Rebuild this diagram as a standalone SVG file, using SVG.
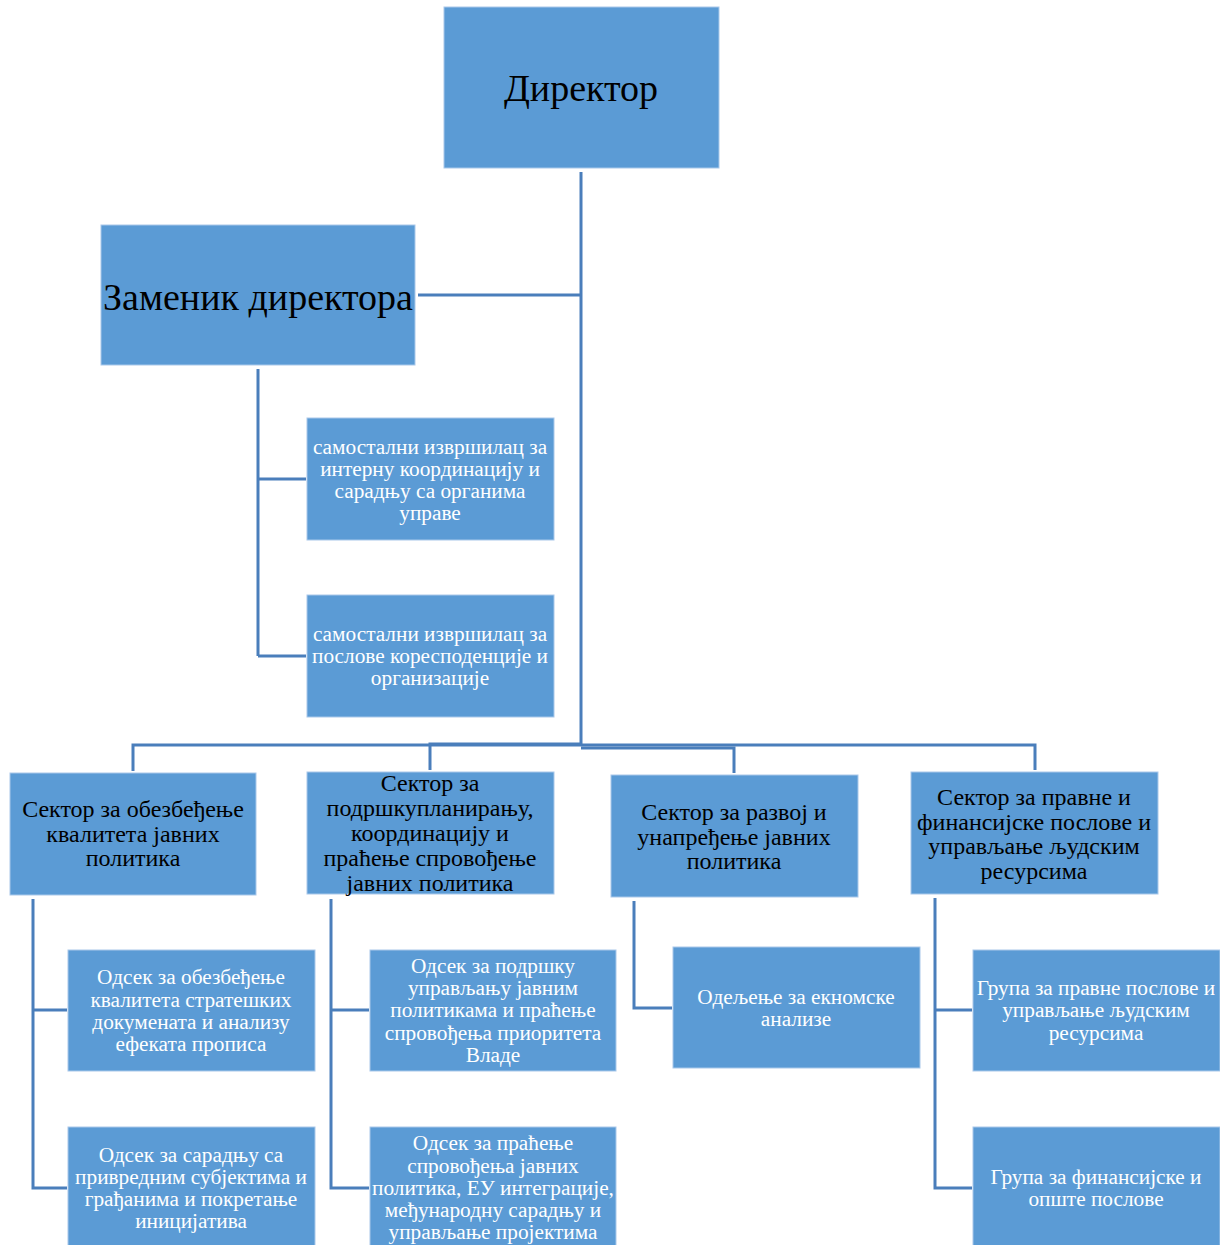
<svg xmlns="http://www.w3.org/2000/svg" width="1220" height="1245" viewBox="0 0 1220 1245">
<style>
.box{fill:#5B9BD5;stroke:#A9C8EA;stroke-width:1}
.c{fill:none;stroke:#4A7EBB;stroke-width:3}
text{font-family:"Liberation Serif","Times New Roman",serif;text-anchor:middle;dominant-baseline:central}
.big{font-size:38px;fill:#000}
.sec{font-size:24px;fill:#000}
.sm{font-size:21.3px;fill:#fff}
</style>
<rect width="1220" height="1245" fill="#fff"/>
<g id="connectors">
<polyline class="c" points="581,172 581,745"/>
<polyline class="c" points="418,295 581,295"/>
<polyline class="c" points="258,369 258,656"/>
<polyline class="c" points="258,479 306,479"/>
<polyline class="c" points="258,656 306,656"/>
<polyline class="c" points="581,745 133,745 133,771"/>
<polyline class="c" points="581,744 430,744 430,770"/>
<polyline class="c" points="581,748 734,748 734,773"/>
<polyline class="c" points="581,745 1035,745 1035,770"/>
<polyline class="c" points="33,899 33,1188 67,1188"/>
<polyline class="c" points="33,1010 67,1010"/>
<polyline class="c" points="331,899 331,1188 369,1188"/>
<polyline class="c" points="331,1010 369,1010"/>
<polyline class="c" points="634,901 634,1008 672,1008"/>
<polyline class="c" points="935,898 935,1188 972,1188"/>
<polyline class="c" points="935,1010 972,1010"/>
</g>
<g id="director"><rect class="box" x="444" y="7" width="275" height="161"/><text class="big" x="581" y="88">Директор</text></g>
<g id="deputy"><rect class="box" x="101" y="225" width="314" height="140"/><text class="big" x="258" y="297">Заменик директора</text></g>
<g id="exec1"><rect class="box" x="307" y="418" width="247" height="122"/>
<text class="sm" x="430"><tspan x="430" y="447">самостални извршилац за</tspan><tspan x="430" y="469">интерну координацију и</tspan><tspan x="430" y="491">сарадњу са органима</tspan><tspan x="430" y="513">управе</tspan></text></g>
<g id="exec2"><rect class="box" x="307" y="595" width="247" height="122"/>
<text class="sm" x="430"><tspan x="430" y="634">самостални извршилац за</tspan><tspan x="430" y="656">послове коресподенције и</tspan><tspan x="430" y="678">организације</tspan></text></g>
<g id="sector1"><rect class="box" x="10" y="773" width="246" height="122"/>
<text class="sec" x="133"><tspan x="133" y="809">Сектор за обезбеђење</tspan><tspan x="133" y="834">квалитета јавних</tspan><tspan x="133" y="858">политика</tspan></text></g>
<g id="sector2"><rect class="box" x="307" y="772" width="247" height="122"/>
<text class="sec" x="430"><tspan x="430" y="783">Сектор за</tspan><tspan x="430" y="808">подршкупланирању,</tspan><tspan x="430" y="833">координацију и</tspan><tspan x="430" y="858">праћење спровођење</tspan><tspan x="430" y="883">јавних политика</tspan></text></g>
<g id="sector3"><rect class="box" x="611" y="775" width="247" height="122"/>
<text class="sec" x="734"><tspan x="734" y="812">Сектор за развој и</tspan><tspan x="734" y="837">унапређење јавних</tspan><tspan x="734" y="861">политика</tspan></text></g>
<g id="sector4"><rect class="box" x="911" y="772" width="247" height="122"/>
<text class="sec" x="1034"><tspan x="1034" y="797">Сектор за правне и</tspan><tspan x="1034" y="822">финансијске послове и</tspan><tspan x="1034" y="846">управљање људским</tspan><tspan x="1034" y="871">ресурсима</tspan></text></g>
<g id="unit11"><rect class="box" x="68" y="950" width="247" height="121"/>
<text class="sm" x="191"><tspan x="191" y="977">Одсек за обезбеђење</tspan><tspan x="191" y="1000">квалитета стратешких</tspan><tspan x="191" y="1022">докумената и анализу</tspan><tspan x="191" y="1044">ефеката прописа</tspan></text></g>
<g id="unit12"><rect class="box" x="68" y="1127" width="247" height="121"/>
<text class="sm" x="191"><tspan x="191" y="1155">Одсек за сарадњу са</tspan><tspan x="191" y="1177">привредним субјектима и</tspan><tspan x="191" y="1199">грађанима и покретање</tspan><tspan x="191" y="1221">иницијатива</tspan></text></g>
<g id="unit21"><rect class="box" x="370" y="950" width="246" height="121"/>
<text class="sm" x="493"><tspan x="493" y="966">Одсек за подршку</tspan><tspan x="493" y="988">управљању јавним</tspan><tspan x="493" y="1010">политикама и праћење</tspan><tspan x="493" y="1033">спровођења приоритета</tspan><tspan x="493" y="1055">Владе</tspan></text></g>
<g id="unit22"><rect class="box" x="370" y="1127" width="246" height="121"/>
<text class="sm" x="493"><tspan x="493" y="1143">Одсек за праћење</tspan><tspan x="493" y="1166">спровођења јавних</tspan><tspan x="493" y="1188">политика, ЕУ интеграције,</tspan><tspan x="493" y="1210">међународну сарадњу и</tspan><tspan x="493" y="1232">управљање пројектима</tspan></text></g>
<g id="unit31"><rect class="box" x="673" y="947" width="247" height="121"/>
<text class="sm" x="796"><tspan x="796" y="997">Одељење за екномске</tspan><tspan x="796" y="1019">анализе</tspan></text></g>
<g id="unit41"><rect class="box" x="973" y="950" width="247" height="121"/>
<text class="sm" x="1096"><tspan x="1096" y="988">Група за правне послове и</tspan><tspan x="1096" y="1010">управљање људским</tspan><tspan x="1096" y="1033">ресурсима</tspan></text></g>
<g id="unit42"><rect class="box" x="973" y="1127" width="247" height="121"/>
<text class="sm" x="1096"><tspan x="1096" y="1177">Група за финансијске и</tspan><tspan x="1096" y="1199">опште послове</tspan></text></g>
</svg>
